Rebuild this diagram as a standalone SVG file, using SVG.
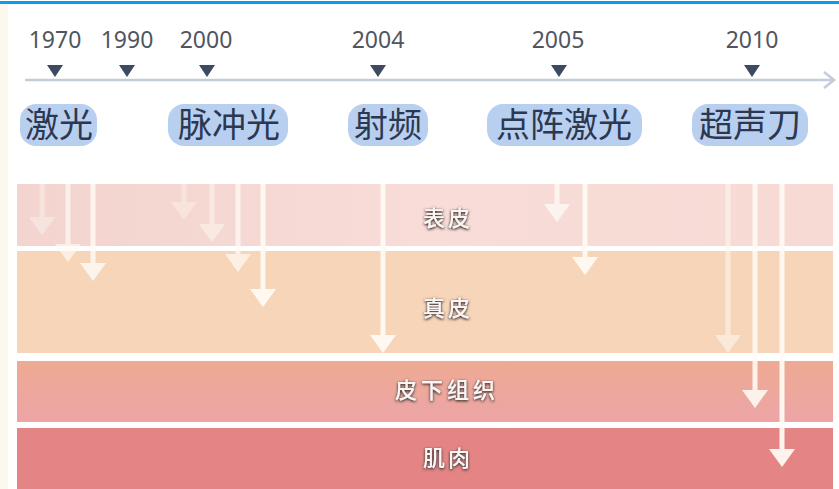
<svg xmlns="http://www.w3.org/2000/svg" width="839" height="489" viewBox="0 0 839 489">
<defs>
<style>
.year{font-family:"Noto Sans","Liberation Sans",sans-serif;font-size:23px;fill:#50565e;text-anchor:middle}
.tick{fill:#3d4a60}
.pill{fill:#b9cff0}
.ptxt{font-family:"Noto Sans CJK SC","Noto Sans",sans-serif;font-size:34px;fill:#2b3850;text-anchor:middle}
.ltxt{font-family:"Noto Sans CJK SC","Noto Sans",sans-serif;font-size:22px;font-weight:500;fill:#fbf6f4;text-anchor:middle;letter-spacing:3px;filter:url(#sh)}
.arr{stroke:#fffaf4;stroke-width:5;fill:none;marker-end:url(#ah)}
</style>
<filter id="sh" x="-20%" y="-40%" width="140%" height="180%">
<feGaussianBlur in="SourceAlpha" stdDeviation="1.4" result="b"/>
<feFlood flood-color="#5a4848" flood-opacity="1"/>
<feComposite in2="b" operator="in" result="s"/>
<feComponentTransfer in="s" result="s2"><feFuncA type="linear" slope="1.6"/></feComponentTransfer>
<feOffset in="s2" dx="0" dy="0.6" result="o"/>
<feMerge><feMergeNode in="o"/><feMergeNode in="SourceGraphic"/></feMerge>
</filter>
<marker id="ah" markerUnits="userSpaceOnUse" markerWidth="26" markerHeight="18" refX="13" refY="1" orient="0" viewBox="0 0 26 18">
<path d="M0,0 L26,0 L13,18 Z" fill="#fffaf4"/>
</marker>
<linearGradient id="g3" x1="0" y1="0" x2="0" y2="1">
<stop offset="0" stop-color="#eeaa93"/>
<stop offset="1" stop-color="#eca5a6"/>
</linearGradient>
<linearGradient id="g1" x1="0" y1="0" x2="1" y2="0">
<stop offset="0" stop-color="#f3d4cf"/>
<stop offset="0.5" stop-color="#f8dcd7"/>
<stop offset="1" stop-color="#f7dad4"/>
</linearGradient>
</defs>
<rect x="0" y="0" width="839" height="489" fill="#ffffff"/>
<rect x="0" y="4" width="8" height="485" fill="#fdf8ee"/>
<rect x="0" y="1" width="839" height="3" fill="#0d9de5"/>

<g id="layers">
<rect id="epidermis" x="17" y="184" width="816" height="62" fill="url(#g1)"/>
<rect id="dermis" x="17" y="251" width="816" height="102" fill="#f6d5b9"/>
<rect id="subcutis" x="17" y="361" width="816" height="61" fill="url(#g3)"/>
<rect id="muscle" x="17" y="428" width="816" height="61" fill="#e48484"/>
<text class="ltxt" x="448" y="226">表皮</text>
<text class="ltxt" x="448" y="316">真皮</text>
<text class="ltxt" x="447" y="398" style="letter-spacing:4px">皮下组织</text>
<text class="ltxt" x="448" y="466">肌肉</text>
</g>

<g id="timeline">
<line x1="25" y1="80" x2="834" y2="80" stroke="#c3ccd8" stroke-width="2.5"/>
<path d="M824,72 L834,80 L824,88" fill="none" stroke="#c3ccd8" stroke-width="2.5"/>
<text class="year" x="55" y="48">1970</text>
<text class="year" x="127" y="48">1990</text>
<text class="year" x="206" y="48">2000</text>
<text class="year" x="378" y="48">2004</text>
<text class="year" x="558" y="48">2005</text>
<text class="year" x="752" y="48">2010</text>
<path class="tick" d="M47,65 L63,65 L55,77 Z"/>
<path class="tick" d="M119,65 L135,65 L127,77 Z"/>
<path class="tick" d="M199,65 L215,65 L207,77 Z"/>
<path class="tick" d="M370,65 L386,65 L378,77 Z"/>
<path class="tick" d="M551,65 L567,65 L559,77 Z"/>
<path class="tick" d="M744,65 L760,65 L752,77 Z"/>
</g>

<g id="n-laser"><rect class="pill" x="20" y="104" width="77" height="42" rx="16"/><text class="ptxt" x="59" y="137">激光</text></g>
<g id="n-ipl"><rect class="pill" x="168" y="104" width="120" height="42" rx="16"/><text class="ptxt" x="229" y="137">脉冲光</text></g>
<g id="n-rf"><rect class="pill" x="348" y="104" width="80" height="42" rx="16"/><text class="ptxt" x="388" y="137">射频</text></g>
<g id="n-fractional"><rect class="pill" x="487" y="104" width="155" height="42" rx="16"/><text class="ptxt" x="564" y="137">点阵激光</text></g>
<g id="n-hifu"><rect class="pill" x="692" y="104" width="116" height="42" rx="16"/><text class="ptxt" x="750" y="137">超声刀</text></g>

<g id="connectors">
<line class="arr" x1="42" y1="183" x2="42" y2="218" opacity="0.4"/>
<line class="arr" x1="68" y1="183" x2="68" y2="245" opacity="0.7"/>
<line class="arr" x1="93" y1="183" x2="93" y2="264" opacity="0.85"/>
<line class="arr" x1="184" y1="183" x2="184" y2="203" opacity="0.35"/>
<line class="arr" x1="212" y1="183" x2="212" y2="225" opacity="0.5"/>
<line class="arr" x1="238" y1="183" x2="238" y2="255" opacity="0.75"/>
<line class="arr" x1="263" y1="183" x2="263" y2="290" opacity="0.95"/>
<line class="arr" x1="383" y1="183" x2="383" y2="336" opacity="0.95"/>
<line class="arr" x1="557" y1="183" x2="557" y2="205" opacity="0.8"/>
<line class="arr" x1="585" y1="183" x2="585" y2="258" opacity="0.95"/>
<line class="arr" x1="728" y1="183" x2="728" y2="336" opacity="0.55"/>
<line class="arr" x1="755" y1="183" x2="755" y2="391" opacity="0.9"/>
<line class="arr" x1="782" y1="183" x2="782" y2="450" opacity="0.95"/>
</g>
</svg>
